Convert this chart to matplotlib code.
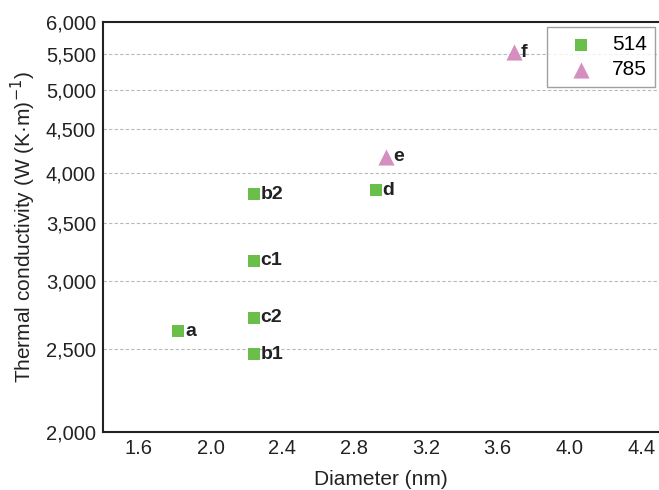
import matplotlib
matplotlib.use("Agg")
import matplotlib.pyplot as plt
from matplotlib.ticker import FixedLocator, NullLocator

plt.rcParams['font.family'] = ['Liberation Sans', 'DejaVu Sans']

# Data
labels_514 = ["a", "b1", "b2", "c1", "c2", "d"]
diam_514 = [1.82, 2.24, 2.24, 2.24, 2.24, 2.92]
tc_514 = [2620, 2463, 3782, 3165, 2717, 3825]

labels_785 = ["e", "f"]
diam_785 = [2.98, 3.69]
tc_785 = [4182, 5531]

yticks = [2000, 2500, 3000, 3500, 4000, 4500, 5000, 5500, 6000]
xticks = [1.6, 2.0, 2.4, 2.8, 3.2, 3.6, 4.0, 4.4]

green = "#6abf4b"
pink = "#d48fbf"
dark = "#222222"

fig = plt.figure(figsize=(6.59, 4.90), dpi=100)
ax = fig.add_axes([103/659, 1 - 432/490, 1 - 103/659, (432 - 22)/490])

ax.set_yscale("log")
ax.set_ylim(2000, 6000)
ax.set_xlim(1.4, 4.5)

ax.scatter(diam_514, tc_514, marker="s", s=72, color=green, label="514", zorder=3, linewidths=0)
ax.scatter(diam_785, tc_785, marker="^", s=135, color=pink, label="785", zorder=3, linewidths=0)

for x, y, t in zip(diam_514 + diam_785, tc_514 + tc_785, labels_514 + labels_785):
    ax.annotate(t, (x, y), xytext=(5, 0), textcoords="offset points",
                ha="left", va="center", fontsize=14, fontweight="bold", color=dark)

ax.yaxis.set_major_locator(FixedLocator(yticks))
ax.yaxis.set_minor_locator(NullLocator())
ax.set_yticklabels([f"{v:,}" for v in yticks])
ax.set_xticks(xticks)
ax.set_xticklabels([f"{v:.1f}" for v in xticks])

ax.tick_params(axis="both", length=0, labelsize=14.5, colors=dark, pad=5)

for v in yticks[1:-1]:
    ax.axhline(v, color="#b8b8b8", linestyle=(0, (3, 2)), linewidth=0.8, zorder=1)

for s in ["left", "bottom", "top"]:
    ax.spines[s].set_color(dark)
    ax.spines[s].set_linewidth(1.5)
ax.spines["right"].set_visible(False)

ax.set_xlabel("Diameter (nm)", fontsize=15, color=dark, labelpad=9)
ax.set_ylabel("Thermal conductivity (W (K\u00b7m)$^{-1}$)", fontsize=15, color=dark, labelpad=6)

leg = fig.legend(loc="upper right", bbox_to_anchor=(655/659, 1 - 27/490), frameon=True,
                 fancybox=False, fontsize=15, borderpad=0.4, handletextpad=0.3,
                 handlelength=2.4, labelspacing=0.28, borderaxespad=0)
leg.get_frame().set_edgecolor("#888888")
leg.get_frame().set_linewidth(1.0)

fig.savefig("out.png", dpi=100)
